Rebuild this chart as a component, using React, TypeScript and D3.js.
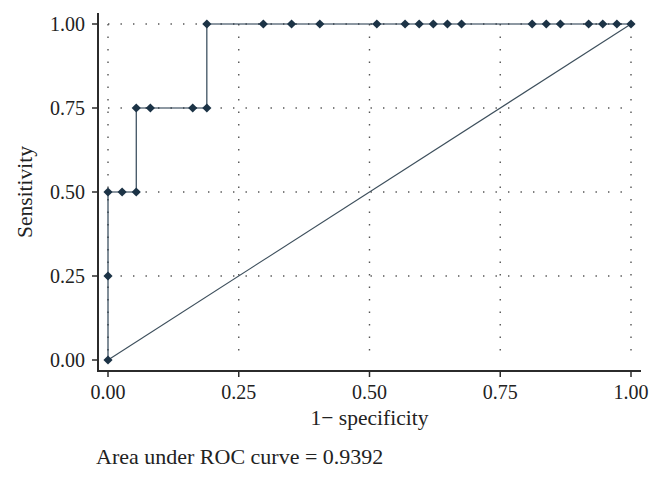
import { useEffect, useRef } from 'react';
import * as d3 from 'd3';

// ROC points (1 - specificity, sensitivity)
const fprValues = [
    0, 0, 0, 0.027, 0.054, 0.054, 0.081, 0.162, 0.189, 0.189,
    0.297, 0.351, 0.405, 0.514, 0.568, 0.595, 0.622, 0.649, 0.676,
    0.811, 0.838, 0.865, 0.919, 0.946, 0.973, 1.0
];
const tprValues = [
    0, 0.25, 0.5, 0.5, 0.5, 0.75, 0.75, 0.75, 0.75, 1,
    1, 1, 1, 1, 1, 1, 1, 1, 1,
    1, 1, 1, 1, 1, 1, 1
];
const tickValues = [0, 0.25, 0.5, 0.75, 1];
const xLabel = '1\u2212 specificity';
const yLabel = 'Sensitivity';
const aucText = 'Area under ROC curve = 0.9392';

const WIDTH = 662;
const HEIGHT = 478;
const FONT = '"Liberation Serif", "DejaVu Serif", serif';
const INK = '#1c3346';

export default function App() {
    const svgRef = useRef<SVGSVGElement>(null);

    useEffect(() => {
        if (!svgRef.current) return;
        const svg = d3.select(svgRef.current);
        svg.selectAll('*').remove();

        const x = d3.scaleLinear().domain([0, 1]).range([108, 631]);
        const y = d3.scaleLinear().domain([0, 1]).range([360, 24]);

        const points = fprValues.map((f, i) => ({ fpr: f, tpr: tprValues[i] }));

        // grid
        const grid = svg.append('g')
            .attr('stroke', '#555')
            .attr('stroke-width', 1.4)
            .attr('stroke-dasharray', '1.4 11.1')
            .attr('fill', 'none');
        grid.selectAll('.gx')
            .data(tickValues)
            .join('line')
            .attr('x1', d => x(d))
            .attr('x2', d => x(d))
            .attr('y1', y(1))
            .attr('y2', y(0));
        grid.selectAll('.gy')
            .data(tickValues.filter(d => d > 0))
            .join('line')
            .attr('x1', x(0))
            .attr('x2', x(1))
            .attr('y1', d => y(d))
            .attr('y2', d => y(d));

        // axes frame
        const axisColor = '#2b2b2b';
        svg.append('line')
            .attr('x1', 98).attr('x2', 98)
            .attr('y1', 13).attr('y2', 371)
            .attr('stroke', axisColor).attr('stroke-width', 2);
        svg.append('line')
            .attr('x1', 97).attr('x2', 641)
            .attr('y1', 371).attr('y2', 371)
            .attr('stroke', axisColor).attr('stroke-width', 2);

        // y ticks
        const yt = svg.append('g').selectAll('g')
            .data(tickValues)
            .join('g')
            .attr('transform', d => `translate(0,${y(d)})`);
        yt.append('line')
            .attr('x1', 92).attr('x2', 98)
            .attr('stroke', axisColor).attr('stroke-width', 1.5);
        yt.append('text')
            .attr('x', 85)
            .attr('dy', '0.34em')
            .attr('text-anchor', 'end')
            .attr('font-family', FONT)
            .attr('font-size', 20)
            .attr('fill', '#222')
            .text(d => d3.format('.2f')(d));

        // x ticks
        const xt = svg.append('g').selectAll('g')
            .data(tickValues)
            .join('g')
            .attr('transform', d => `translate(${x(d)},0)`);
        xt.append('line')
            .attr('y1', 371).attr('y2', 377)
            .attr('stroke', axisColor).attr('stroke-width', 1.5);
        xt.append('text')
            .attr('y', 399)
            .attr('text-anchor', 'middle')
            .attr('font-family', FONT)
            .attr('font-size', 20)
            .attr('fill', '#222')
            .text(d => d3.format('.2f')(d));

        // reference diagonal
        svg.append('line')
            .attr('x1', x(0)).attr('y1', y(0))
            .attr('x2', x(1)).attr('y2', y(1))
            .attr('stroke', '#3d4f5c')
            .attr('stroke-width', 1.1);

        // ROC curve
        const line = d3.line<{ fpr: number; tpr: number }>()
            .x(d => x(d.fpr))
            .y(d => y(d.tpr));
        svg.append('path')
            .datum(points)
            .attr('d', line)
            .attr('fill', 'none')
            .attr('stroke', INK)
            .attr('stroke-width', 1.1);

        const marker = d3.symbol().type(d3.symbolSquare).size(42);
        svg.append('g').selectAll('path')
            .data(points)
            .join('path')
            .attr('d', marker)
            .attr('transform', d => `translate(${x(d.fpr)},${y(d.tpr)}) rotate(45)`)
            .attr('fill', INK);

        // labels
        svg.append('text')
            .attr('x', (x(0) + x(1)) / 2)
            .attr('y', 425)
            .attr('text-anchor', 'middle')
            .attr('font-family', FONT)
            .attr('font-size', 21.5)
            .attr('fill', '#222')
            .text(xLabel);
        svg.append('text')
            .attr('transform', `translate(32,${(y(0) + y(1)) / 2}) rotate(-90)`)
            .attr('text-anchor', 'middle')
            .attr('font-family', FONT)
            .attr('font-size', 21.5)
            .attr('fill', '#222')
            .text(yLabel);
        svg.append('text')
            .attr('x', 96)
            .attr('y', 464)
            .attr('font-family', FONT)
            .attr('font-size', 22)
            .attr('fill', '#222')
            .text(aucText);
    }, []);

    return (
        <div>
            <style>{`body{margin:0;background:#fff}`}</style>
            <svg ref={svgRef} width={WIDTH} height={HEIGHT} style={{ display: 'block' }}></svg>
        </div>
    );
}
